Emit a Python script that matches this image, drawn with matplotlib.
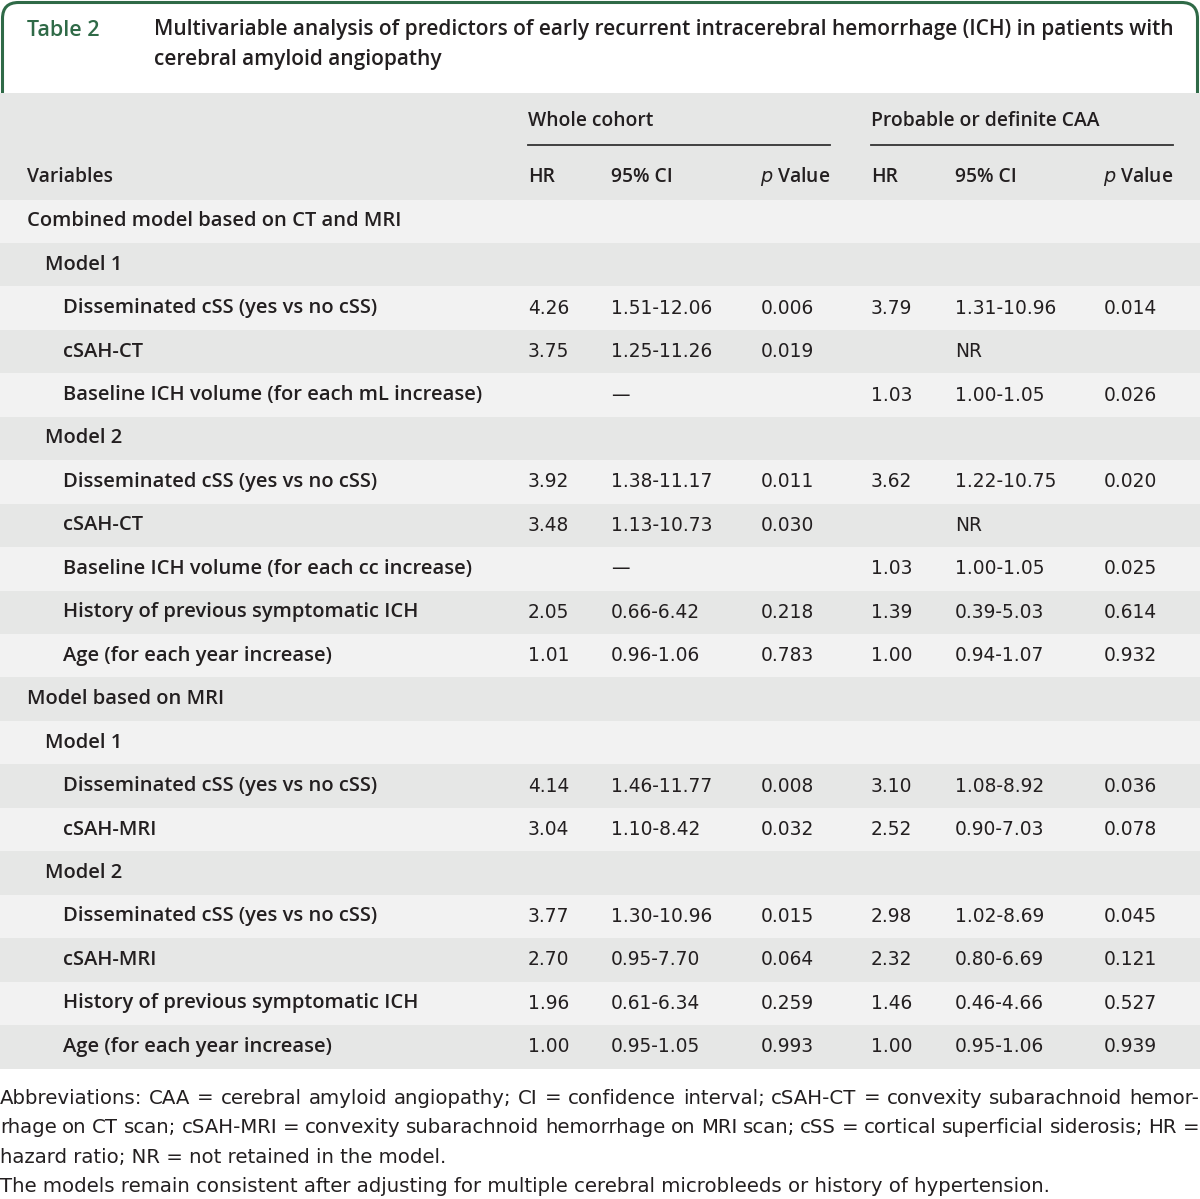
import matplotlib
matplotlib.use('Agg')
import matplotlib.pyplot as plt
from matplotlib.patches import Rectangle, FancyBboxPatch

# table content
labels = ['Combined model based on CT and MRI', 'Model 1',
          'Disseminated cSS (yes vs no cSS)', 'cSAH-CT',
          'Baseline ICH volume (for each mL increase)', 'Model 2',
          'Disseminated cSS (yes vs no cSS)', 'cSAH-CT',
          'Baseline ICH volume (for each cc increase)',
          'History of previous symptomatic ICH', 'Age (for each year increase)',
          'Model based on MRI', 'Model 1',
          'Disseminated cSS (yes vs no cSS)', 'cSAH-MRI', 'Model 2',
          'Disseminated cSS (yes vs no cSS)', 'cSAH-MRI',
          'History of previous symptomatic ICH', 'Age (for each year increase)']
levels = [0, 1, 2, 2, 2, 1, 2, 2, 2, 2, 2, 0, 1, 2, 2, 1, 2, 2, 2, 2]
hr_whole = ['', '', '4.26', '3.75', '', '', '3.92', '3.48', '', '2.05', '1.01',
            '', '', '4.14', '3.04', '', '3.77', '2.70', '1.96', '1.00']
ci_whole = ['', '', '1.51-12.06', '1.25-11.26', '\u2014', '', '1.38-11.17',
            '1.13-10.73', '\u2014', '0.66-6.42', '0.96-1.06', '', '',
            '1.46-11.77', '1.10-8.42', '', '1.30-10.96', '0.95-7.70',
            '0.61-6.34', '0.95-1.05']
p_whole = ['', '', '0.006', '0.019', '', '', '0.011', '0.030', '', '0.218',
           '0.783', '', '', '0.008', '0.032', '', '0.015', '0.064', '0.259',
           '0.993']
hr_caa = ['', '', '3.79', '', '1.03', '', '3.62', '', '1.03', '1.39', '1.00',
          '', '', '3.10', '2.52', '', '2.98', '2.32', '1.46', '1.00']
ci_caa = ['', '', '1.31-10.96', 'NR', '1.00-1.05', '', '1.22-10.75', 'NR',
          '1.00-1.05', '0.39-5.03', '0.94-1.07', '', '', '1.08-8.92',
          '0.90-7.03', '', '1.02-8.69', '0.80-6.69', '0.46-4.66', '0.95-1.06']
p_caa = ['', '', '0.014', '', '0.026', '', '0.020', '', '0.025', '0.614',
         '0.932', '', '', '0.036', '0.078', '', '0.045', '0.121', '0.527',
         '0.939']

title_lines = ['Multivariable analysis of predictors of early recurrent intracerebral hemorrhage (ICH) in patients with',
               'cerebral amyloid angiopathy']
foot_lines = ['Abbreviations: CAA = cerebral amyloid angiopathy; CI = confidence interval; cSAH-CT = convexity subarachnoid hemor-',
              'rhage on CT scan; cSAH-MRI = convexity subarachnoid hemorrhage on MRI scan; cSS = cortical superficial siderosis; HR =',
              'hazard ratio; NR = not retained in the model.',
              'The models remain consistent after adjusting for multiple cerebral microbleeds or history of hypertension.']
foot_justify = [True, True, False, False]

green = '#2f6a47'
dark = '#231f20'
light_bg = '#f2f2f2'
dark_bg = '#e6e7e6'
lab_font = 'Open Sans'
num_font = 'DejaVu Sans'

fig = plt.figure(figsize=(12, 11.99), dpi=100)
ax = fig.add_axes([0, 0, 1, 1])
ax.set_xlim(0, 1200)
ax.set_ylim(1199, 0)
ax.axis('off')

# title box
box = FancyBboxPatch((2.5, 2.5), 1195, 130, boxstyle='round,pad=0,rounding_size=16',
                     facecolor='white', edgecolor=green, linewidth=2.2, zorder=1)
ax.add_patch(box)
ax.add_patch(Rectangle((0, 93), 1200, 106.5, facecolor=dark_bg, edgecolor='none', zorder=2))
ax.text(27, 30, 'Table 2', color=green, fontsize=15.5, fontweight='semibold',
        family=lab_font, va='center', zorder=3)
for i, t in enumerate(title_lines):
    ax.text(154, 30 + 29 * i, t, color=dark, fontsize=15.0, fontweight='semibold',
            family=lab_font, va='center', zorder=3)

# header
hs = dict(color=dark, fontsize=13.9, fontweight='semibold', family=lab_font, va='center', zorder=3)
ax.text(528, 121, 'Whole cohort', **hs)
ax.text(871, 121, 'Probable or definite CAA', **hs)
ax.plot([528, 830], [145, 145], color='#333333', lw=1.3, zorder=3)
ax.plot([871, 1173], [145, 145], color='#333333', lw=1.3, zorder=3)
ax.text(27, 177, 'Variables', **hs)
for xh, t in [(528, 'HR'), (611, '95% CI'), (871, 'HR'), (955, '95% CI')]:
    ax.text(xh, 177, t, ha='left', **hs)
for xr in [830, 1173]:
    ax.text(xr, 177, r'$\it{p}$' + ' Value', ha='right', **hs)

# body rows
row_top = 199.5
row_h = 43.45
indent = [27, 45, 63]
ns = dict(color=dark, fontsize=13.4, family=num_font, va='center', zorder=3)
for i, lab in enumerate(labels):
    y0 = row_top + i * row_h
    yc = y0 + row_h / 2
    ax.add_patch(Rectangle((0, y0), 1200, row_h, facecolor=light_bg if i % 2 == 0 else dark_bg,
                           edgecolor='none', zorder=2))
    ax.text(indent[levels[i]], yc, lab, color=dark, fontsize=14.5, fontweight='semibold',
            family=lab_font, va='center', zorder=3)
    ax.text(528, yc, hr_whole[i], **ns)
    ax.text(611, yc, ci_whole[i], **ns)
    ax.text(761, yc, p_whole[i], **ns)
    ax.text(871, yc, hr_caa[i], **ns)
    ax.text(955, yc, ci_caa[i], **ns)
    ax.text(1104, yc, p_caa[i], **ns)

# footnote, justified lines
fig.canvas.draw()
renderer = fig.canvas.get_renderer()
fs = dict(color=dark, fontsize=14.2, family=num_font, va='center', zorder=3)
for j, line in enumerate(foot_lines):
    yc = 1098 + 29.6 * j
    if not foot_justify[j]:
        ax.text(0, yc, line, **fs)
        continue
    words = line.split(' ')
    arts = [ax.text(0, yc, w, **fs) for w in words]
    widths = [a.get_window_extent(renderer).width for a in arts]
    gap = (1199 - sum(widths)) / (len(words) - 1)
    x = 0
    for a, w in zip(arts, widths):
        a.set_x(x)
        x += w + gap

fig.savefig('out.png', dpi=100, facecolor='white')
